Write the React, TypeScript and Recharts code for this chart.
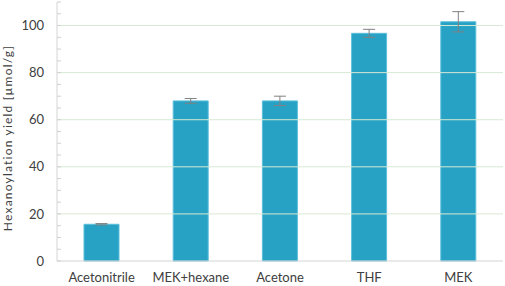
import React from 'react';
import { BarChart, Bar, XAxis, YAxis, ErrorBar, ReferenceLine } from 'recharts';

const categories = ['Acetonitrile', 'MEK+hexane', 'Acetone', 'THF', 'MEK'];
const yieldValues = [15.6, 68.0, 68.0, 96.7, 101.6];
const errorValues = [0.3, 1.0, 2.0, 1.7, 4.3];
const yTicks = [0, 5, 10, 15, 20, 25, 30, 35, 40, 45, 50, 55, 60, 65, 70, 75, 80, 85, 90, 95, 100, 105, 110];
const gridValues = [20, 40, 60, 80, 100];
const yAxisTitle = 'Hexanoylation yield [µmol/g]';

const data = categories.map((c, i) => ({ name: c, value: yieldValues[i], err: errorValues[i] }));

const FONT = 'Lato, "Open Sans", sans-serif';

const YTick = (props: any) => {
  const { x, y, payload } = props;
  const v = payload.value;
  const showLabel = v % 20 === 0 && v <= 100;
  return (
    <g>
      <line x1={x} x2={x + 4} y1={y} y2={y} stroke="#d0d0d0" strokeWidth={1} />
      {showLabel && (
        <text x={x - 13} y={y} dy="0.36em" textAnchor="end" fontSize={13} fill="#404040" fontFamily={FONT}>
          {v}
        </text>
      )}
    </g>
  );
};

const YTitle = () => (
  <text
    x={12}
    y={138}
    transform="rotate(-90 12 138)"
    textAnchor="middle"
    fontSize={12}
    letterSpacing={1.2}
    fill="#404040"
    fontFamily={FONT}
  >
    {yAxisTitle}
  </text>
);

export default function App() {
  return (
    <div style={{ position: 'fixed', left: 0, top: 0, width: 505, height: 286, background: '#fff' }}>
      <BarChart width={505} height={286} data={data} margin={{ top: 2, right: 2, left: 0, bottom: 0 }}>
        {gridValues.map((g) => (
          <ReferenceLine key={g} y={g} stroke="#d6e9d4" strokeWidth={1} />
        ))}
        <XAxis
          dataKey="name"
          height={25}
          tickSize={0}
          tickMargin={12}
          tickLine={false}
          axisLine={{ stroke: '#d4d4d4' }}
          tick={{ fontSize: 13, fill: '#404040', fontFamily: FONT }}
          interval={0}
        />
        <YAxis
          width={57}
          domain={[0, 110]}
          ticks={yTicks}
          interval={0}
          tickSize={0}
          tickMargin={0}
          tickLine={false}
          axisLine={{ stroke: '#d4d4d4' }}
          tick={<YTick />}
          label={{ content: () => <YTitle /> }}
        />
        <Bar dataKey="value" fill="#27a2c5" stroke="#5cbfdb" strokeWidth={1} barSize={35} isAnimationActive={false}>
          <ErrorBar dataKey="err" width={6} stroke="#808080" strokeWidth={1} />
        </Bar>
      </BarChart>
    </div>
  );
}
